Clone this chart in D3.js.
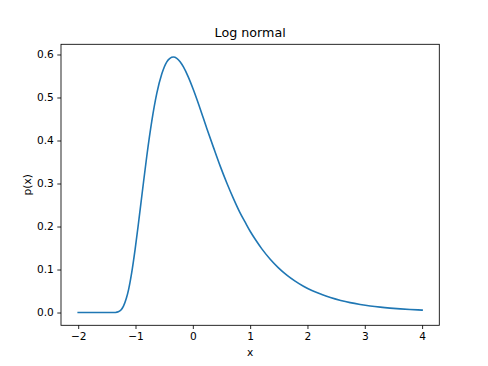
<!DOCTYPE html>
<html>
<head>
<meta charset="utf-8">
<script src="https://cdn.jsdelivr.net/npm/d3@7"></script>
<style>
html,body{margin:0;padding:0;background:#fff;}
svg{display:block;font-family:"DejaVu Sans",sans-serif;}
</style>
</head>
<body>
<svg id="chart" width="488" height="366"></svg>
<script>
const xValues = [-2, -1.7, -1.5, -1.4, -1.35, -1.3, -1.25, -1.21, -1.16, -1.12, -1.065, -1.007, -0.949, -0.88, -0.803, -0.716, -0.628, -0.541, -0.454, -0.40, -0.339, -0.28, -0.222, -0.164, -0.08, 0.01, 0.12, 0.244, 0.36, 0.476, 0.6, 0.709, 0.82, 0.913, 1.0, 1.1, 1.204, 1.35, 1.494, 1.64, 1.785, 1.93, 2.077, 2.25, 2.40, 2.58, 2.745, 2.92, 3.094, 3.27, 3.44, 3.62, 3.79, 4.0];
const yValues = [0, 0, 0, 0, 0.0002, 0.0016, 0.0065, 0.015, 0.033, 0.054, 0.094, 0.147, 0.207, 0.282, 0.364, 0.445, 0.510, 0.555, 0.583, 0.591, 0.594, 0.591, 0.583, 0.571, 0.548, 0.518, 0.477, 0.428, 0.384, 0.341, 0.299, 0.265, 0.233, 0.210, 0.189, 0.168, 0.148, 0.124, 0.104, 0.087, 0.073, 0.061, 0.051, 0.0418, 0.0347, 0.028, 0.023, 0.0188, 0.0153, 0.0125, 0.0103, 0.0084, 0.0070, 0.0056];
const xTicks = [-2, -1, 0, 1, 2, 3, 4];
const yTicks = [0.0, 0.1, 0.2, 0.3, 0.4, 0.5, 0.6];
const titleText = "Log normal";
const xLabel = "x";
const yLabel = "p(x)";

(function () {
const svg = d3.select("#chart");
const mLeft = 61, mRight = 439.3, mTop = 44.3, mBottom = 325.3;
const xMin = d3.min(xValues), xMax = d3.max(xValues);
const yMin = d3.min(yValues), yMax = d3.max(yValues);
const xPad = (xMax - xMin) * 0.05, yPad = (yMax - yMin) * 0.05;
const x = d3.scaleLinear().domain([xMin - xPad, xMax + xPad]).range([mLeft, mRight]);
const y = d3.scaleLinear().domain([yMin - yPad, yMax + yPad]).range([mBottom, mTop]);

const data = xValues.map((v, i) => ({x: v, y: yValues[i]}));

svg.append("path")
  .datum(data)
  .attr("fill", "none")
  .attr("stroke", "#1f77b4")
  .attr("stroke-width", 1.6)
  .attr("stroke-linejoin", "round")
  .attr("stroke-linecap", "square")
  .attr("d", d3.line().x(d => x(d.x)).y(d => y(d.y)).curve(d3.curveMonotoneX));

const fmtMinus = s => s.replace("-", "\u2212");

const xAxis = svg.append("g")
  .attr("transform", `translate(0,${mBottom})`)
  .call(d3.axisBottom(x).tickValues(xTicks).tickSize(3.7).tickPadding(3.5)
    .tickFormat(d => fmtMinus(d3.format("d")(d))));
const yAxis = svg.append("g")
  .attr("transform", `translate(${mLeft},0)`)
  .call(d3.axisLeft(y).tickValues(yTicks).tickSize(3.7).tickPadding(3.5)
    .tickFormat(d3.format(".1f")));

[xAxis, yAxis].forEach(g => {
  g.select(".domain").remove();
  g.selectAll(".tick line").attr("stroke", "#000").attr("stroke-width", 0.85);
  g.selectAll(".tick text").attr("fill", "#000").attr("font-size", 10.6)
    .attr("font-family", "DejaVu Sans, sans-serif");
});

svg.append("rect")
  .attr("x", mLeft).attr("y", mTop)
  .attr("width", mRight - mLeft).attr("height", mBottom - mTop)
  .attr("fill", "none").attr("stroke", "#000").attr("stroke-width", 0.85);

svg.append("text")
  .attr("x", (mLeft + mRight) / 2).attr("y", mTop - 7.5)
  .attr("text-anchor", "middle").attr("font-size", 12.7)
  .text(titleText);

svg.append("text")
  .attr("x", (mLeft + mRight) / 2).attr("y", 356)
  .attr("text-anchor", "middle").attr("font-size", 10.6)
  .text(xLabel);

svg.append("text")
  .attr("transform", `translate(31,${(mTop + mBottom) / 2}) rotate(-90)`)
  .attr("text-anchor", "middle").attr("font-size", 10.6)
  .text(yLabel);
})();
</script>
</body>
</html>
